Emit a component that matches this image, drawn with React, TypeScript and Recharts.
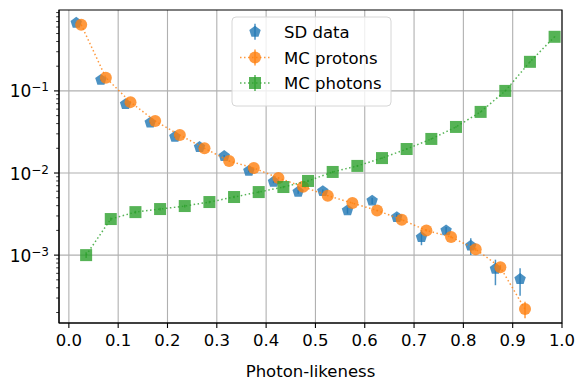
import React from "react";
import {
  ComposedChart,
  Scatter,
  XAxis,
  YAxis,
  CartesianGrid,
  ErrorBar,
  ReferenceArea,
  Label,
} from "recharts";

// SD data (pentagons, error bars, no line)
const sdX = [0.015, 0.065, 0.115, 0.165, 0.215, 0.265, 0.315, 0.365, 0.415, 0.465, 0.515, 0.565, 0.615, 0.665, 0.715, 0.765, 0.815, 0.865, 0.915];
const sdY = [0.675, 0.136, 0.069, 0.041, 0.0276, 0.0207, 0.0161, 0.0106, 0.0078, 0.0059, 0.006, 0.0035, 0.0046, 0.0029, 0.00165, 0.002, 0.0013, 0.00068, 0.00051];
const sdErrLo = [0.01, 0.003, 0.002, 0.001, 0.0008, 0.0006, 0.0005, 0.0004, 0.0003, 0.0003, 0.0003, 0.0003, 0.0004, 0.0003, 0.00033, 0.0002, 0.0003, 0.00025, 0.00019];
const sdErrHi = [0.01, 0.003, 0.002, 0.001, 0.0008, 0.0006, 0.0005, 0.0004, 0.0003, 0.0003, 0.0003, 0.0003, 0.0004, 0.0003, 0.00037, 0.0002, 0.0003, 0.0002, 0.00018];

// MC protons (circles, dotted)
const protonX = [0.025, 0.075, 0.125, 0.175, 0.225, 0.275, 0.325, 0.375, 0.425, 0.475, 0.525, 0.575, 0.625, 0.675, 0.725, 0.775, 0.825, 0.875, 0.925];
const protonY = [0.64, 0.145, 0.073, 0.043, 0.029, 0.02, 0.014, 0.0115, 0.0087, 0.0068, 0.0053, 0.0043, 0.0035, 0.0027, 0.002, 0.00166, 0.00118, 0.00071, 0.00022];
const protonErr = [0.004, 0.001, 0.0006, 0.0004, 0.0003, 0.0002, 0.0002, 0.00015, 0.00012, 0.0001, 0.0001, 0.00008, 0.00008, 0.00007, 0.00006, 0.00006, 0.00005, 0.00005, 0.00005];

// MC photons (squares, dotted)
const photonX = [0.035, 0.085, 0.135, 0.185, 0.235, 0.285, 0.335, 0.385, 0.435, 0.485, 0.535, 0.585, 0.635, 0.685, 0.735, 0.785, 0.835, 0.885, 0.935, 0.985];
const photonY = [0.001, 0.00275, 0.00334, 0.00364, 0.00396, 0.00443, 0.0051, 0.00586, 0.00675, 0.008, 0.0103, 0.0122, 0.0152, 0.0196, 0.026, 0.0364, 0.0555, 0.1, 0.226, 0.456];
const photonErr = [0.00008, 0.00012, 0.00013, 0.00014, 0.00015, 0.00016, 0.00018, 0.0002, 0.00022, 0.00025, 0.0003, 0.00035, 0.0004, 0.0005, 0.0006, 0.0008, 0.0011, 0.0018, 0.0035, 0.006];

const xTicks = [0, 0.1, 0.2, 0.3, 0.4, 0.5, 0.6, 0.7, 0.8, 0.9, 1.0];
const xDomain = [-0.02, 1.0];
const yDomain = [1.49e-4, 0.967];
const yMajor = [0.001, 0.01, 0.1];
const yMajorLabels = ["\u22123", "\u22122", "\u22121"];

const yMinor: number[] = [];
[0.0001, 0.001, 0.01, 0.1].forEach((base) => {
  for (let m = 2; m <= 9; m++) {
    const v = base * m;
    if (v > yDomain[0] && v < yDomain[1]) yMinor.push(v);
  }
});
const yTicks = [...yMinor, ...yMajor].sort((a, b) => a - b);

const FONT = "'DejaVu Sans', sans-serif";
const BLUE = "#1f77b4";
const ORANGE = "#ff7f0e";
const GREEN = "#2ca02c";

const sdData = sdX.map((x, i) => ({ x, y: sdY[i], err: [sdErrLo[i], sdErrHi[i]] }));
const protonData = protonX.map((x, i) => ({ x, y: protonY[i], err: protonErr[i] }));
const photonData = photonX.map((x, i) => ({ x, y: photonY[i], err: photonErr[i] }));

const pentagonPoints = (cx: number, cy: number, r: number) =>
  [0, 1, 2, 3, 4]
    .map((k) => {
      const a = ((-90 + 72 * k) * Math.PI) / 180;
      return `${cx + r * Math.cos(a)},${cy + r * Math.sin(a)}`;
    })
    .join(" ");

const Pentagon = (props: any) => (
  <polygon points={pentagonPoints(props.cx, props.cy, 6)} fill={BLUE} fillOpacity={0.8} />
);
const Dot = (props: any) => (
  <circle cx={props.cx} cy={props.cy} r={6} fill={ORANGE} fillOpacity={0.8} />
);
const Box = (props: any) => (
  <rect x={props.cx - 6} y={props.cy - 6} width={12} height={12} fill={GREEN} fillOpacity={0.8} />
);

const XTick = (props: any) => {
  const { x, y, payload } = props;
  return (
    <g>
      <line x1={x} x2={x} y1={y} y2={y + 5} stroke="#000" strokeWidth={1.1} />
      <text x={x} y={y + 23} textAnchor="middle" fontSize={16.5} fontFamily={FONT} fill="#000">
        {Number(payload.value).toFixed(1)}
      </text>
    </g>
  );
};

const YTick = (props: any) => {
  const { x, y, payload } = props;
  const idx = yMajor.findIndex((v) => Math.abs(v - payload.value) / v < 1e-6);
  if (idx < 0) {
    return <line x1={x - 2.8} x2={x} y1={y} y2={y} stroke="#000" strokeWidth={0.8} />;
  }
  return (
    <g>
      <line x1={x - 5} x2={x} y1={y} y2={y} stroke="#000" strokeWidth={1.1} />
      <text x={x - 10} y={y + 6.5} textAnchor="end" fontFamily={FONT} fill="#000">
        <tspan fontSize={17}>10</tspan>
        <tspan fontSize={12} dy={-6}>{yMajorLabels[idx]}</tspan>
      </text>
    </g>
  );
};

const XLabel = (props: any) => {
  const vb = props.viewBox;
  return (
    <text x={vb.x + vb.width / 2} y={vb.y + 54} textAnchor="middle" fontSize={16.5} fontFamily={FONT} fill="#000">
      Photon-likeness
    </text>
  );
};

const dotted = (color: string) => ({
  stroke: color,
  strokeWidth: 1.5,
  strokeDasharray: "1.5 2.5",
  strokeOpacity: 0.8,
});

const LegendBox = () => {
  const rows = [
    { label: "SD data", color: BLUE, kind: "pent", y: 15.8 },
    { label: "MC protons", color: ORANGE, kind: "circle", y: 41.5 },
    { label: "MC photons", color: GREEN, kind: "square", y: 67 },
  ];
  return (
    <svg width={161} height={91} style={{ position: "absolute", left: 231, top: 16 }}>
      <rect x={1} y={1} width={159} height={89} rx={4} fill="#fff" fillOpacity={0.8} stroke="#d6d6d6" />
      {rows.map((r) => (
        <g key={r.label}>
          {r.kind !== "pent" && <line x1={9} x2={39} y1={r.y} y2={r.y} {...dotted(r.color)} />}
          {r.kind === "pent" && (
            <polygon points={pentagonPoints(24, r.y, 6)} fill={r.color} fillOpacity={0.8} />
          )}
          {r.kind === "circle" && <circle cx={24} cy={r.y} r={6} fill={r.color} fillOpacity={0.8} />}
          {r.kind === "square" && (
            <rect x={18} y={r.y - 6} width={12} height={12} fill={r.color} fillOpacity={0.8} />
          )}
          <line x1={24} x2={24} y1={r.y - 8} y2={r.y + 8} stroke={r.color} strokeWidth={1.5} strokeOpacity={0.8} />
          <text x={53} y={r.y + 6} fontSize={16.5} fontFamily={FONT} fill="#000">
            {r.label}
          </text>
        </g>
      ))}
    </svg>
  );
};

export default function App() {
  return (
    <div style={{ position: "absolute", left: 0, top: 0, width: 584, height: 384, background: "#fff" }}>
      <ComposedChart width={584} height={384} margin={{ top: 10, right: 22, left: 0, bottom: 0 }}>
        <CartesianGrid horizontalValues={yMajor} verticalValues={xTicks} stroke="#b0b0b0" strokeWidth={1.1} />
        <XAxis
          dataKey="x"
          type="number"
          domain={xDomain}
          allowDataOverflow
          ticks={xTicks}
          interval={0}
          height={61}
          tickSize={0}
          tickMargin={0}
          tick={<XTick />}
          axisLine={{ stroke: "#000", strokeWidth: 1.1 }}
        >
          <Label content={<XLabel />} />
        </XAxis>
        <YAxis
          dataKey="y"
          type="number"
          scale="log"
          domain={yDomain}
          allowDataOverflow
          ticks={yTicks}
          interval={0}
          width={59}
          tickSize={0}
          tickMargin={0}
          tick={<YTick />}
          axisLine={{ stroke: "#000", strokeWidth: 1.1 }}
        />
        <ReferenceArea
          x1={xDomain[0]}
          x2={xDomain[1]}
          y1={yDomain[0]}
          y2={yDomain[1]}
          fill="none"
          fillOpacity={0}
          stroke="#000"
          strokeWidth={1.1}
          ifOverflow="visible"
        />
        <Scatter name="SD data" data={sdData} shape={<Pentagon />} isAnimationActive={false}>
          <ErrorBar dataKey="err" direction="y" width={0} stroke={BLUE} strokeWidth={1.5} strokeOpacity={0.8} isAnimationActive={false} />
        </Scatter>
        <Scatter
          name="MC protons"
          data={protonData}
          shape={<Dot />}
          line={dotted(ORANGE)}
          lineType="joint"
          isAnimationActive={false}
        >
          <ErrorBar dataKey="err" direction="y" width={0} stroke={ORANGE} strokeWidth={1.5} strokeOpacity={0.8} isAnimationActive={false} />
        </Scatter>
        <Scatter
          name="MC photons"
          data={photonData}
          shape={<Box />}
          line={dotted(GREEN)}
          lineType="joint"
          isAnimationActive={false}
        >
          <ErrorBar dataKey="err" direction="y" width={0} stroke={GREEN} strokeWidth={1.5} strokeOpacity={0.8} isAnimationActive={false} />
        </Scatter>
      </ComposedChart>
      <LegendBox />
    </div>
  );
}
